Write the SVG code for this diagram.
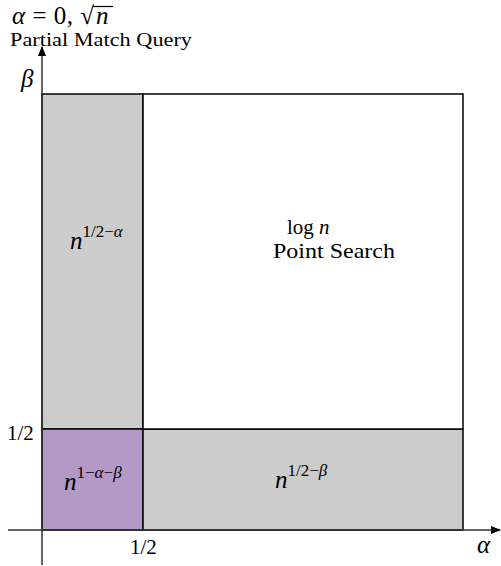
<svg xmlns="http://www.w3.org/2000/svg" width="501" height="566" viewBox="0 0 501 566">
<style>
text{font-family:"Liberation Serif","DejaVu Serif",serif;fill:#000}
.m{font-style:italic}
.ln{stroke:#000;stroke-width:1.5}
.ax{stroke:#333;stroke-width:1.5;fill:none}
.sup{font-size:17px}
</style>
<defs>
<marker id="ar" markerWidth="10" markerHeight="8" refX="9" refY="4" orient="auto" markerUnits="userSpaceOnUse">
<path d="M0,0 L10,4 L0,8 Z" fill="#000"/>
</marker>
</defs>
<rect width="501" height="566" fill="#fff"/>
<g id="regions">
<rect id="gray-left" x="42" y="94" width="101" height="335" style="fill:#cccccc" class="ln"/>
<rect id="purple" x="42" y="429" width="101" height="101" style="fill:#b299c6" class="ln"/>
<rect id="gray-bottom" x="143" y="429" width="320" height="101" style="fill:#cccccc" class="ln"/>
<rect id="white" x="143" y="94" width="320" height="335" style="fill:#ffffff" class="ln"/>
</g>
<g id="connectors">
<line class="ax" x1="42" y1="565" x2="42" y2="47" marker-end="url(#ar)"/>
<line class="ax" x1="8" y1="530" x2="500" y2="530" marker-end="url(#ar)"/>
</g>
<g id="labels">
<text x="12" y="24" font-size="25" textLength="82"><tspan class="m">α</tspan> = 0, √</text>
<line x1="93" y1="6.5" x2="113" y2="6.5" stroke="#000" stroke-width="1.2"/>
<text x="96" y="24" font-size="25" class="m">n</text>
<text x="10" y="46" font-size="19" textLength="182" lengthAdjust="spacingAndGlyphs">Partial Match Query</text>
<text x="21" y="87" font-size="25" class="m">β</text>
<text x="7" y="440" font-size="21">1/2</text>
<text x="130" y="554" font-size="21">1/2</text>
<text x="477" y="553" font-size="25" class="m">α</text>
<text x="70" y="249" font-size="25"><tspan class="m">n</tspan><tspan class="sup" dy="-12">1/2−<tspan class="m">α</tspan></tspan></text>
<text x="287" y="234" font-size="21">log <tspan class="m">n</tspan></text>
<text x="273" y="258" font-size="22" textLength="122" lengthAdjust="spacingAndGlyphs">Point Search</text>
<text x="64" y="490" font-size="25"><tspan class="m">n</tspan><tspan class="sup" dy="-12">1−<tspan class="m">α</tspan>−<tspan class="m">β</tspan></tspan></text>
<text x="275" y="488" font-size="25"><tspan class="m">n</tspan><tspan class="sup" dy="-12">1/2−<tspan class="m">β</tspan></tspan></text>
</g>
</svg>
